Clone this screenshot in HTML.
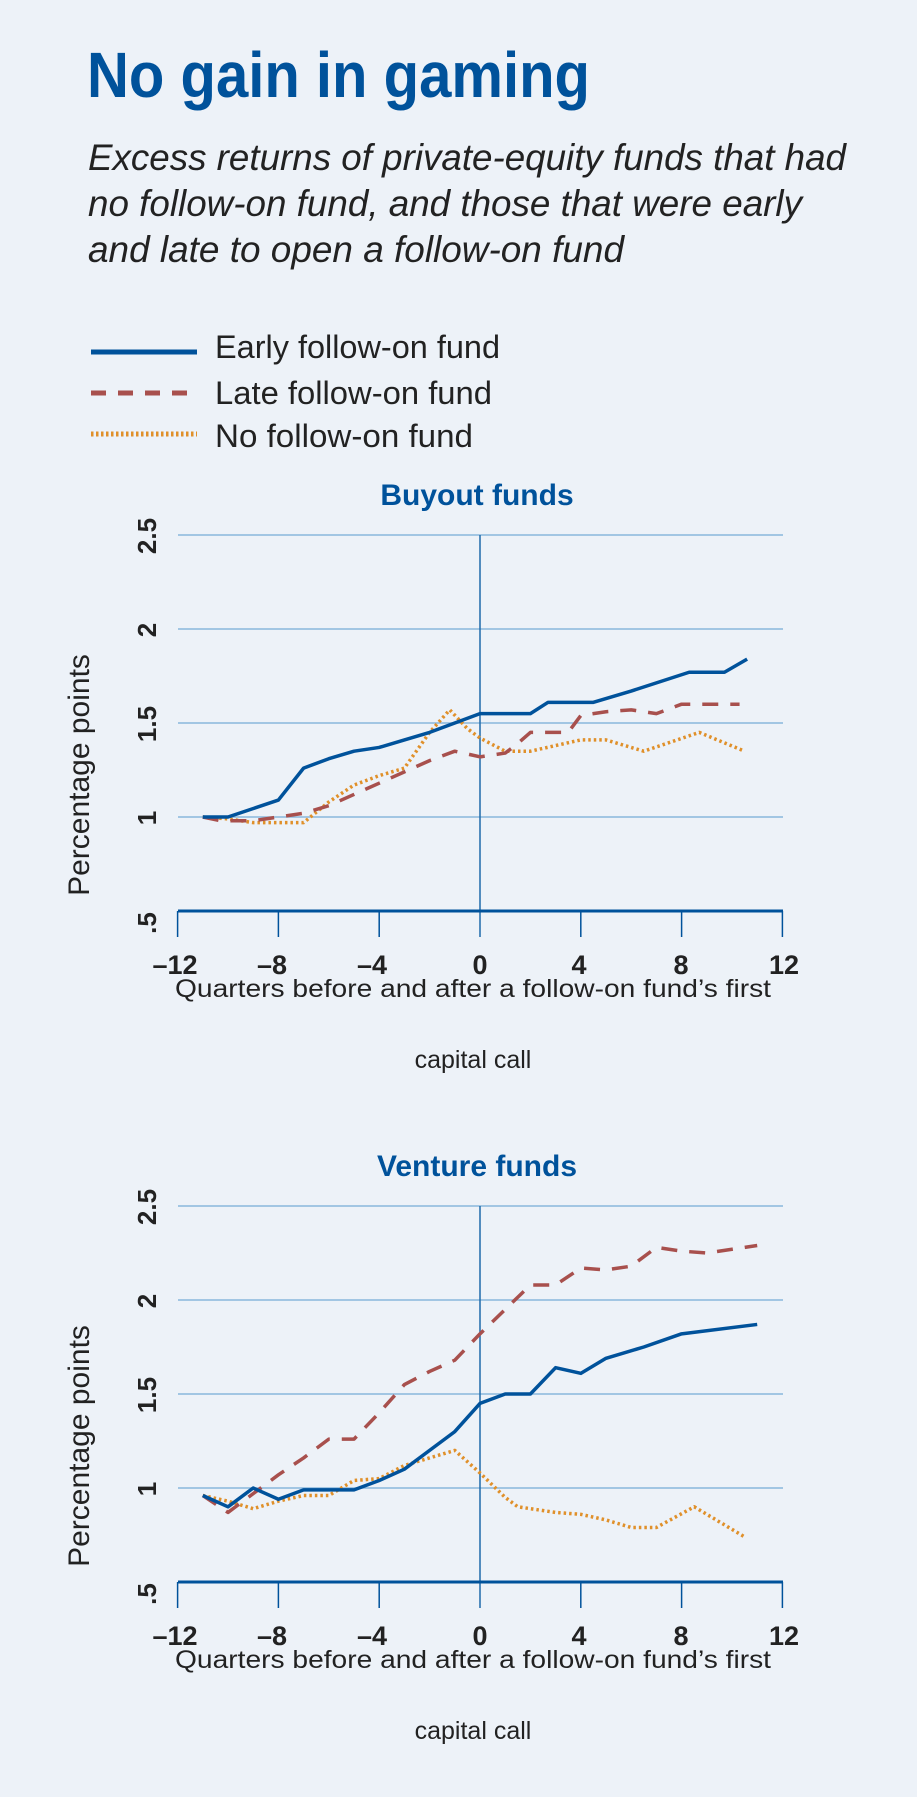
<!DOCTYPE html>
<html><head><meta charset="utf-8"><style>
html,body{margin:0;padding:0;background:#edf2f8;}
svg{display:block}
text{font-family:"Liberation Sans Narrow","Liberation Sans",sans-serif}
</style></head><body>
<svg id="s" width="917" height="1797" viewBox="0 0 917 1797" xmlns="http://www.w3.org/2000/svg">
<rect width="917" height="1797" fill="#edf2f8"/>
<text x="87" y="97" font-size="64" font-weight="bold" fill="#00529b" textLength="503" lengthAdjust="spacingAndGlyphs">No gain in gaming</text>
<g font-size="37" font-style="italic" fill="#222">
<text x="88" y="170" textLength="758" lengthAdjust="spacingAndGlyphs">Excess returns of private-equity funds that had</text>
<text x="88" y="216" textLength="714" lengthAdjust="spacingAndGlyphs">no follow-on fund, and those that were early</text>
<text x="88" y="262" textLength="536" lengthAdjust="spacingAndGlyphs">and late to open a follow-on fund</text>
</g>
<line x1="91" y1="352" x2="197" y2="352" stroke="#00529b" stroke-width="5"/>
<line x1="91" y1="393" x2="197" y2="393" stroke="#a8504d" stroke-width="5" stroke-dasharray="15,12"/>
<line x1="91" y1="434" x2="197" y2="434" stroke="#e0902a" stroke-width="5" stroke-dasharray="2.5,2.5"/>
<g font-size="32" fill="#222">
<text x="215" y="358" textLength="285" lengthAdjust="spacingAndGlyphs">Early follow-on fund</text>
<text x="215" y="404" textLength="277" lengthAdjust="spacingAndGlyphs">Late follow-on fund</text>
<text x="215" y="447" textLength="258" lengthAdjust="spacingAndGlyphs">No follow-on fund</text>
</g>
<g id="c1"></g><g id="c2"></g>
<text x="477" y="505" font-size="30" font-weight="bold" fill="#00529b" text-anchor="middle">Buyout funds</text>
<text x="477" y="1176" font-size="30" font-weight="bold" fill="#00529b" text-anchor="middle">Venture funds</text>
<g font-size="25" fill="#222" text-anchor="middle">
<text x="473" y="997" textLength="596" lengthAdjust="spacingAndGlyphs">Quarters before and after a follow-on fund’s first</text>
<text x="473" y="1068">capital call</text>
<text x="473" y="1668" textLength="596" lengthAdjust="spacingAndGlyphs">Quarters before and after a follow-on fund’s first</text>
<text x="473" y="1739">capital call</text>
</g>
<g font-size="30" fill="#222" font-family="Liberation Sans,sans-serif" text-anchor="middle">
<text transform="translate(89,775) rotate(-90)">Percentage points</text>
<text transform="translate(89,1446) rotate(-90)">Percentage points</text>
</g>
<g font-size="27" font-weight="bold" fill="#222" text-anchor="middle">
<text x="175" y="974">–12</text><text x="272" y="974">–8</text><text x="372" y="974">–4</text><text x="480" y="974">0</text><text x="579" y="974">4</text><text x="681" y="974">8</text><text x="784" y="974">12</text>
<text x="175" y="1645">–12</text><text x="272" y="1645">–8</text><text x="372" y="1645">–4</text><text x="480" y="1645">0</text><text x="579" y="1645">4</text><text x="681" y="1645">8</text><text x="784" y="1645">12</text>
</g>
<g font-size="26" font-weight="bold" fill="#222" font-family="Liberation Sans,sans-serif" text-anchor="middle">
<text transform="translate(156,536) rotate(-90)">2.5</text>
<text transform="translate(156,630) rotate(-90)">2</text>
<text transform="translate(156,724) rotate(-90)">1.5</text>
<text transform="translate(156,818) rotate(-90)">1</text>
<text transform="translate(156,923) rotate(-90)">.5</text>
<text transform="translate(156,1207) rotate(-90)">2.5</text>
<text transform="translate(156,1301) rotate(-90)">2</text>
<text transform="translate(156,1395) rotate(-90)">1.5</text>
<text transform="translate(156,1489) rotate(-90)">1</text>
<text transform="translate(156,1594) rotate(-90)">.5</text>
</g>
</svg>
<script>
var NS="http://www.w3.org/2000/svg";
function el(p,t,a){var e=document.createElementNS(NS,t);for(var k in a)e.setAttribute(k,a[k]);p.appendChild(e);return e;}
function chart(id,off,series){
 var g=document.getElementById(id);
 var X=function(q){return 480+q*25.2;}, Y=function(v){return off+911-(v-0.5)*188;};
 [1,1.5,2,2.5].forEach(function(v){el(g,"line",{x1:178,x2:783,y1:Y(v),y2:Y(v),stroke:"#8ab8dc","stroke-width":1.5});});
 el(g,"line",{x1:480,x2:480,y1:Y(2.5),y2:off+937,stroke:"#1f6aaa","stroke-width":1.5});
 el(g,"line",{x1:178,x2:783,y1:off+911,y2:off+911,stroke:"#00529b","stroke-width":3});
 [-12,-8,-4,4,8,12].forEach(function(q){el(g,"line",{x1:X(q),x2:X(q),y1:off+911,y2:off+937,stroke:"#00529b","stroke-width":1.5});});
 var st=[{s:"#e0902a",d:"2.5,3"},{s:"#a8504d",d:"16,12"},{s:"#00529b",d:""}];
 series.forEach(function(d,i){var pts=d.map(function(p){return X(p[0])+","+Y(p[1]);}).join(" ");
  var a={points:pts,fill:"none",stroke:st[i].s,"stroke-width":3.5,"stroke-linejoin":"round"};if(st[i].d)a["stroke-dasharray"]=st[i].d;el(g,"polyline",a);});
}
chart("c1",0,[
 [[-11,1.0],[-10,0.99],[-9,0.97],[-8,0.97],[-7,0.97],[-6,1.08],[-5,1.17],[-4,1.22],[-3,1.26],[-2,1.45],[-1.2,1.57],[-0.5,1.47],[0,1.42],[1,1.35],[2,1.35],[4,1.41],[5,1.41],[6.5,1.35],[8.7,1.45],[10.5,1.35]],
 [[-11,1.0],[-10.3,0.98],[-9,0.98],[-8,1.0],[-7,1.02],[-6,1.06],[-5,1.12],[-4,1.18],[-3,1.24],[-2,1.3],[-1,1.35],[0,1.32],[1,1.34],[1.4,1.38],[2,1.45],[3.5,1.45],[4,1.54],[5,1.56],[6,1.57],[7,1.55],[8,1.6],[10.3,1.6]],
 [[-11,1.0],[-10,1.0],[-8,1.09],[-7,1.26],[-6,1.31],[-5,1.35],[-4,1.37],[-3,1.41],[-2,1.45],[-1,1.5],[0,1.55],[1,1.55],[2,1.55],[2.7,1.61],[4.5,1.61],[6,1.67],[8.3,1.77],[9.7,1.77],[10.6,1.84]]
]);
chart("c2",671,[
 [[-11,0.96],[-10,0.93],[-9,0.89],[-8,0.93],[-7,0.96],[-6,0.96],[-5,1.04],[-4,1.05],[-3,1.12],[-1,1.2],[0,1.08],[1,0.95],[1.5,0.9],[3,0.87],[4,0.86],[5,0.83],[6,0.79],[7,0.79],[8.5,0.9],[10.5,0.74]],
 [[-11,0.96],[-10,0.87],[-9,0.97],[-8,1.07],[-7,1.16],[-6,1.26],[-5,1.26],[-4,1.4],[-3,1.55],[-2,1.62],[-1,1.68],[0,1.82],[1,1.95],[2,2.08],[3,2.08],[4,2.17],[5,2.16],[6,2.18],[7,2.28],[8,2.26],[9,2.25],[11,2.29]],
 [[-11,0.96],[-10,0.9],[-9,1.0],[-8,0.94],[-7,0.99],[-6,0.99],[-5,0.99],[-4,1.04],[-3,1.1],[-2,1.2],[-1,1.3],[0,1.45],[1,1.5],[2,1.5],[3,1.64],[4,1.61],[5,1.69],[6.5,1.75],[8,1.82],[11,1.87]]
]);
</script>
</body></html>
